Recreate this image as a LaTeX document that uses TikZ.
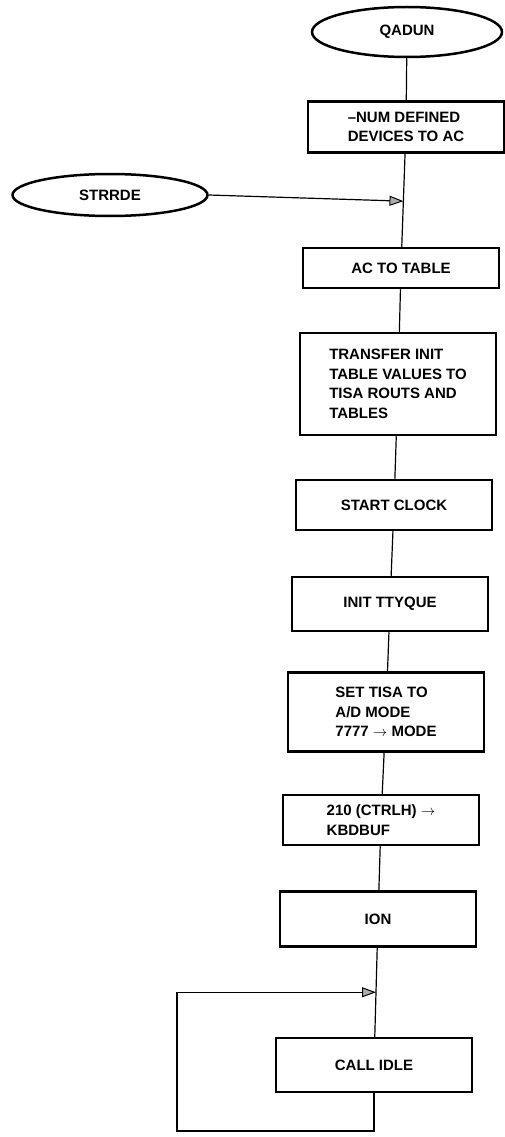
\documentclass[tikz,border=0pt]{standalone}
\usepackage{fontspec}
\setmainfont{Liberation Sans}
\usepackage{tikz}
\usetikzlibrary{arrows.meta, shapes.geometric, calc}

\begin{document}
\begin{tikzpicture}[
  x=1pt, y=-1pt,
  stepbox/.style={rectangle, draw, line width=2.5pt, minimum width=196pt,
                  inner sep=0pt, align=left,
                  font=\fontsize{15}{19.5}\selectfont\bfseries},
  term/.style={ellipse, draw, line width=2.5pt, inner sep=0pt,
               font=\fontsize{15}{19}\selectfont\bfseries},
  lk/.style={draw, line width=1.2pt},
  arr/.style={lk, -{Triangle[length=14pt, width=10pt, fill=gray!65, line width=1pt]}}
]
  \useasboundingbox (0,0) rectangle (504,1137);
  % entry points
  \node[term, minimum width=190pt, minimum height=50pt] (qadun) at (407,32) {QADUN};
  \node[term, minimum width=195pt, minimum height=42pt] (strrde) at (110,195) {STRRDE};
  % main column of steps, name/x/y/height/text
  \foreach \nm/\x/\y/\h/\txt in {
    num/406/127/51/{\textendash NUM DEFINED\\DEVICES TO AC},
    ac/401/268/40/{AC TO TABLE},
    xfer/398/384/102/{TRANSFER INIT\\TABLE VALUES TO\\TISA ROUTS AND\\TABLES},
    clk/394/505/50/{START CLOCK},
    tty/390/604/54/{INIT TTYQUE},
    tisa/386/712/79/{SET TISA TO\\A/D MODE\\7777 $\rightarrow$ MODE},
    kbd/381/820/50/{210 (CTRLH) $\rightarrow$\\KBDBUF},
    ion/378/919/55/{ION},
    call/374/1065/54/{CALL IDLE}}
    {\node[stepbox, minimum height=\h pt] (\nm) at (\x,\y) {\txt};}
  \draw[lk] (qadun) -- (num);
  \foreach \a/\b in {ac/xfer, xfer/clk, clk/tty, tty/tisa, tisa/kbd, kbd/ion}
    \draw[lk] (\a) -- (\b);
  % junction for the second entry
  \draw[lk] (num) -- (ac);
  \coordinate (j1) at ($(num.south)!0.51!(ac.north)$);
  \draw[arr] (strrde.east) -- (j1);
  % idle loop
  \draw[lk] (ion) -- (call);
  \coordinate (j2) at ($(ion.south)!0.5!(call.north)$);
  \coordinate (lb) at (177,1131);
  \draw[arr] (call.south) |- (lb) |- (j2);
\end{tikzpicture}
\end{document}
